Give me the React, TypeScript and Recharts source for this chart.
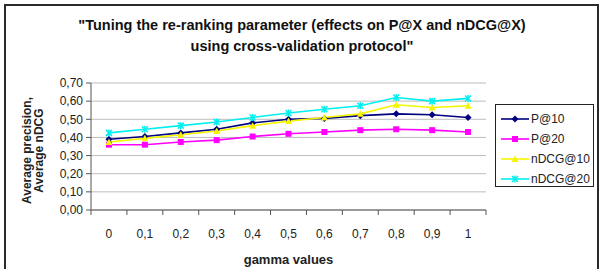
import { LineChart, Line, XAxis, YAxis, CartesianGrid, Label } from "recharts";

const gammaLabels = ["0", "0,1", "0,2", "0,3", "0,4", "0,5", "0,6", "0,7", "0,8", "0,9", "1"];
const p10 = [0.39, 0.405, 0.425, 0.445, 0.48, 0.5, 0.505, 0.52, 0.53, 0.525, 0.51];
const p20 = [0.36, 0.36, 0.375, 0.385, 0.405, 0.42, 0.43, 0.44, 0.445, 0.44, 0.43];
const ndcg10 = [0.375, 0.395, 0.415, 0.435, 0.465, 0.49, 0.51, 0.53, 0.58, 0.565, 0.575];
const ndcg20 = [0.425, 0.445, 0.465, 0.485, 0.51, 0.535, 0.555, 0.575, 0.62, 0.6, 0.615];
const yTicks = [0, 0.1, 0.2, 0.3, 0.4, 0.5, 0.6, 0.7];

const data = gammaLabels.map((g, i) => ({
  gamma: g,
  p10: p10[i],
  p20: p20[i],
  ndcg10: ndcg10[i],
  ndcg20: ndcg20[i],
}));

const W = 602;
const H = 269;
const PLOT_LEFT = 91;
const PLOT_RIGHT = 486;
const PLOT_TOP = 83;
const PLOT_BOTTOM = 210;
const BAND = (PLOT_RIGHT - PLOT_LEFT) / gammaLabels.length;
const FONT = "'Liberation Sans', Arial, sans-serif";

type Marker = "diamond" | "square" | "triangle" | "star";

const series: { key: string; name: string; color: string; marker: Marker }[] = [
  { key: "p10", name: "P@10", color: "#000080", marker: "diamond" },
  { key: "p20", name: "P@20", color: "#ff00ff", marker: "square" },
  { key: "ndcg10", name: "nDCG@10", color: "#f5f500", marker: "triangle" },
  { key: "ndcg20", name: "nDCG@20", color: "#00f0f0", marker: "star" },
];

function markerShape(kind: Marker, cx: number, cy: number, color: string, key?: string | number) {
  const r = 3.5;
  if (kind === "diamond")
    return <polygon key={key} points={`${cx},${cy - r} ${cx + r},${cy} ${cx},${cy + r} ${cx - r},${cy}`} fill={color} />;
  if (kind === "square")
    return <rect key={key} x={cx - 3} y={cy - 3} width={6} height={6} fill={color} />;
  if (kind === "triangle")
    return <polygon key={key} points={`${cx},${cy - r} ${cx + r},${cy + 3} ${cx - r},${cy + 3}`} fill={color} />;
  return (
    <g key={key} stroke={color} strokeWidth={1.5}>
      <line x1={cx - 3} y1={cy - 3} x2={cx + 3} y2={cy + 3} />
      <line x1={cx - 3} y1={cy + 3} x2={cx + 3} y2={cy - 3} />
      <line x1={cx} y1={cy - 3.5} x2={cx} y2={cy + 3.5} />
    </g>
  );
}

// category labels sit mid-band, tick marks sit on the band edges
function GammaTick(props: any) {
  const { x, y, payload, index } = props;
  const half = BAND / 2;
  return (
    <g>
      <line x1={x - half} y1={y} x2={x - half} y2={y + 5} stroke="#555" />
      {index === gammaLabels.length - 1 && (
        <line x1={x + half} y1={y} x2={x + half} y2={y + 5} stroke="#555" />
      )}
      <text x={x} y={y + 28} textAnchor="middle" fontSize={12} fontFamily={FONT} fill="#222">
        {payload.value}
      </text>
    </g>
  );
}

export default function App() {
  return (
    <div style={{ position: "fixed", left: 0, top: 0, width: W, height: H, overflow: "hidden", background: "#fff" }}>
      <div
        style={{
          position: "absolute",
          left: 4,
          top: 4,
          width: 595,
          height: 300,
          boxSizing: "border-box",
          border: "2px solid #2a2a2a",
        }}
      />
      <div
        style={{
          position: "absolute",
          left: 0,
          width: 604,
          top: 15,
          textAlign: "center",
          fontFamily: FONT,
          fontWeight: "bold",
          fontSize: 14.5,
          lineHeight: "21px",
          color: "#111",
        }}
      >
        "Tuning the re-ranking parameter (effects on P@X and nDCG@X)
        <br />
        using cross-validation protocol"
      </div>
      <LineChart
        width={W}
        height={H}
        data={data}
        margin={{ top: PLOT_TOP, right: W - PLOT_RIGHT, bottom: 0, left: 0 }}
        style={{ position: "absolute", left: 0, top: 0 }}
      >
        <CartesianGrid vertical={false} stroke="#bdbdbd" />
        <XAxis
          dataKey="gamma"
          height={H - PLOT_BOTTOM}
          padding={{ left: BAND / 2, right: BAND / 2 }}
          tickSize={0}
          tickMargin={0}
          tickLine={false}
          axisLine={{ stroke: "#555" }}
          tick={<GammaTick />}
          interval={0}
        >
          <Label
            content={({ viewBox }: any) => (
              <text
                x={PLOT_LEFT + (PLOT_RIGHT - PLOT_LEFT) / 2}
                y={viewBox.y + 54}
                textAnchor="middle"
                fontSize={13}
                fontWeight="bold"
                fontFamily={FONT}
                fill="#222"
              >
                gamma values
              </text>
            )}
          />
        </XAxis>
        <YAxis
          width={PLOT_LEFT}
          domain={[0, 0.7]}
          ticks={yTicks}
          interval={0}
          tickFormatter={(v: number) => v.toFixed(2).replace(".", ",")}
          tickSize={5}
          tickMargin={3}
          axisLine={{ stroke: "#555" }}
          tickLine={{ stroke: "#555" }}
          tick={{ fontSize: 12, fontFamily: FONT, fill: "#222" }}
        >
          <Label
            content={({ viewBox }: any) => {
              const cy = viewBox.y + viewBox.height / 2 + 4;
              return (
                <g fontSize={12} fontWeight="bold" fontFamily={FONT} fill="#222">
                  <text x={31} y={cy} textAnchor="middle" transform={`rotate(-90 31 ${cy})`}>
                    Average precision,
                  </text>
                  <text x={43} y={cy} textAnchor="middle" transform={`rotate(-90 43 ${cy})`}>
                    Average nDCG
                  </text>
                </g>
              );
            }}
          />
        </YAxis>
        {series.map((s) => (
          <Line
            key={s.key}
            dataKey={s.key}
            name={s.name}
            stroke={s.color}
            strokeWidth={1.6}
            isAnimationActive={false}
            dot={(p: any) => markerShape(s.marker, p.cx, p.cy, s.color, p.index)}
            activeDot={false}
          />
        ))}
      </LineChart>
      <div
        style={{
          position: "absolute",
          left: 495,
          top: 104,
          width: 99,
          height: 83,
          boxSizing: "border-box",
          border: "1.5px solid #222",
          background: "#fff",
          paddingTop: 4,
        }}
      >
        {series.map((s) => (
          <div key={s.key} style={{ display: "flex", alignItems: "center", height: 20 }}>
            <svg width={32} height={10} style={{ marginLeft: 3 }}>
              <line x1={2} y1={5} x2={30} y2={5} stroke={s.color} strokeWidth={1.6} />
              {markerShape(s.marker, 16, 5, s.color)}
            </svg>
            <span style={{ fontFamily: FONT, fontSize: 12, color: "#222", marginLeft: 0 }}>{s.name}</span>
          </div>
        ))}
      </div>
    </div>
  );
}
